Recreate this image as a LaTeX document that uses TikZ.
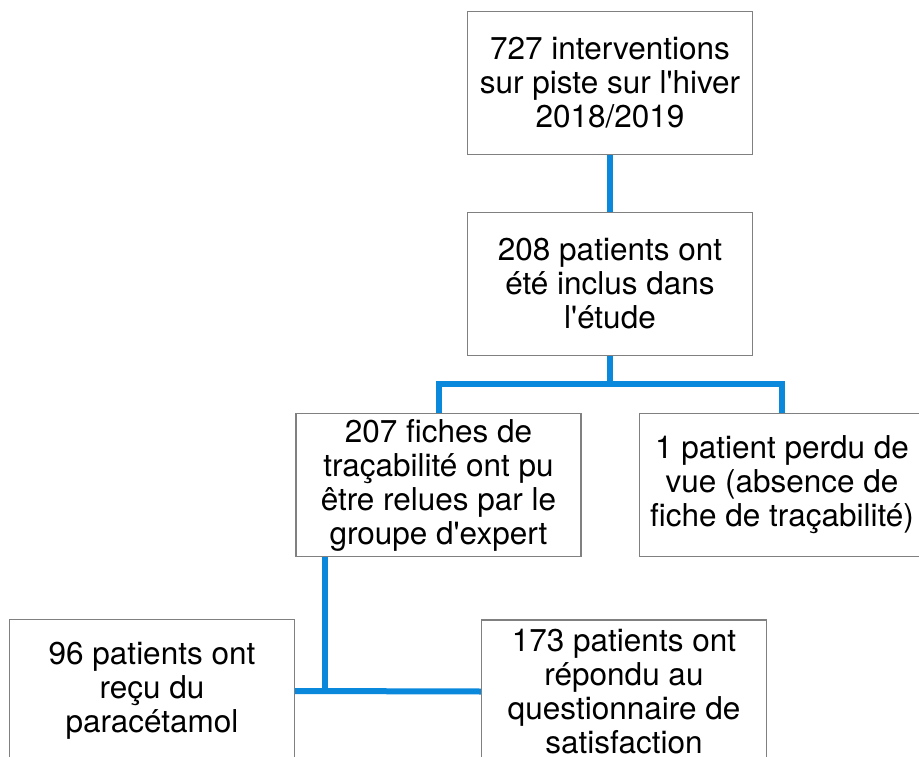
\documentclass[tikz,border=0pt]{standalone}
\usepackage{fontspec}
\setmainfont{TeX Gyre Heros}
\definecolor{linkblue}{HTML}{0A88DC}
\definecolor{boxgray}{HTML}{808080}
\newcommand{\aq}{\textquotesingle}
\begin{document}
\begin{tikzpicture}[x=1pt,y=-1pt,
  flowbox/.style={draw=boxgray, line width=1.3pt, rectangle, minimum width=285pt,
    minimum height=143pt, inner sep=0pt, align=center,
    font=\fontsize{31.5}{34}\selectfont},
  link/.style={draw=linkblue, line width=6pt}]
\useasboundingbox (0,0) rectangle (919,757);
\clip (0,0) rectangle (919,757);
\node[flowbox] (a) at (610,83) {727 interventions\\sur piste sur l\aq hiver\\2018/2019};
\node[flowbox] (b) at (610,283.7) {208 patients ont\\été inclus dans\\l\aq étude};
\node[flowbox] (c) at (438.5,485) {207 fiches de\\traçabilité ont pu\\être relues par le\\groupe d\aq expert};
\node[flowbox] (d) at (782,485) {1 patient perdu de\\vue (absence de\\fiche de traçabilité)};
\node[flowbox] (e) at (152,691) {96 patients ont\\reçu du\\paracétamol};
\node[flowbox] (f) at (624,691.5) {173 patients ont\\répondu au\\questionnaire de\\satisfaction};
\coordinate (j1) at (610,384);
\coordinate (cl) at (438.5,384);
\coordinate (dl) at (782,384);
\coordinate (j2) at (325,691);
\draw[link] (a.south) -- (b.north);
\draw[link] (b.south) -- (j1);
\draw[link, line join=miter] (c.north) -- (cl) -- (dl) -- (d.north);
\draw[link] (c.south -| j2) -- (j2);
\draw[link] (e.east) -- (f.west);
\end{tikzpicture}
\end{document}
